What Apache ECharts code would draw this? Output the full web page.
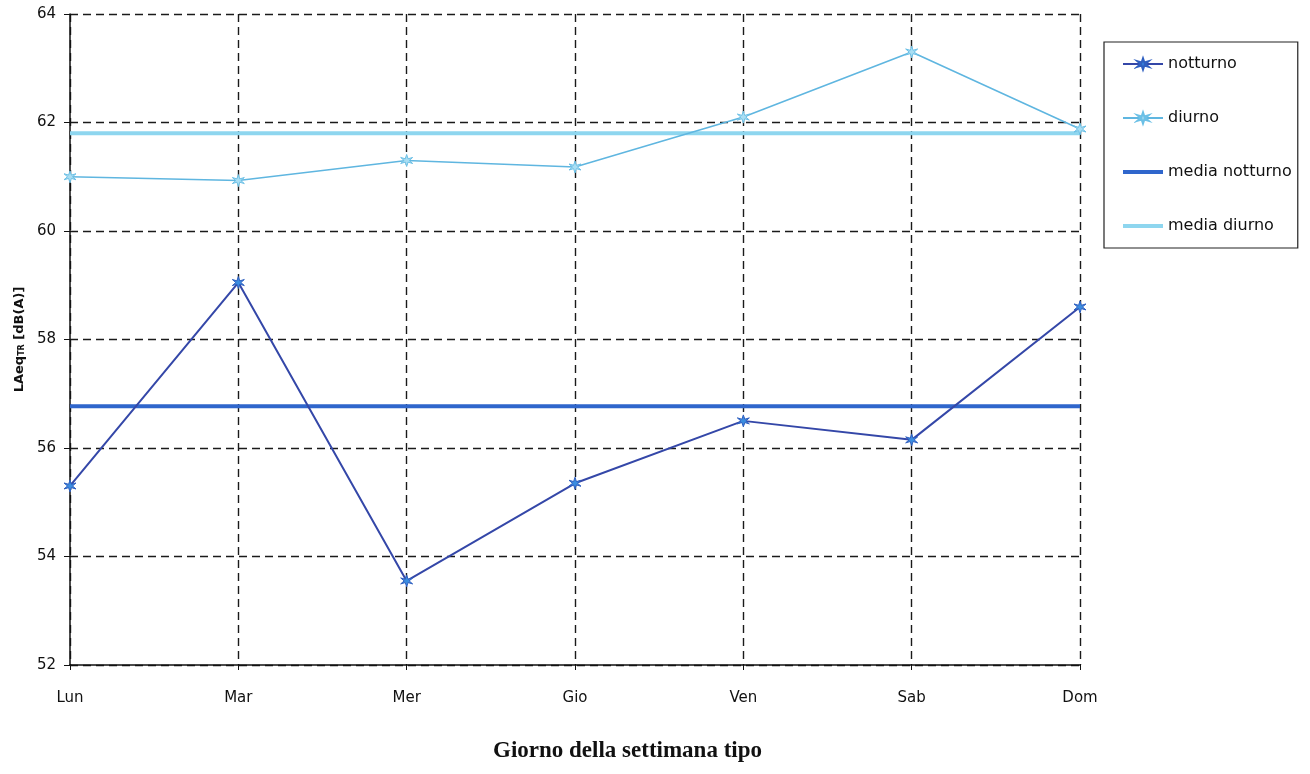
<!DOCTYPE html>
<html>
<head>
<meta charset="utf-8">
<script src="https://cdn.jsdelivr.net/npm/echarts@6/dist/echarts.min.js"></script>
<style>
  html, body { margin: 0; padding: 0; background: #ffffff; }
  #chart { width: 1310px; height: 774px; }
</style>
</head>
<body>
<div id="chart"></div>
<script>
// Days of the typical week
const days = ['Lun', 'Mar', 'Mer', 'Gio', 'Ven', 'Sab', 'Dom'];

// Measured LAeq,TR levels in dB(A)
const notturno = [55.3, 59.05, 53.55, 55.35, 56.5, 56.15, 58.6];
const diurno = [61.0, 60.93, 61.3, 61.18, 62.1, 63.3, 61.88];

// Weekly averages (energy means) drawn as flat reference lines
const mediaNotturno = [56.77, 56.77, 56.77, 56.77, 56.77, 56.77, 56.77];
const mediaDiurno = [61.8, 61.8, 61.8, 61.8, 61.8, 61.8, 61.8];

// Y axis range and step
const yMin = 52, yMax = 64, yStep = 2;

const asterisk = 'path://M5,0 L6,3.6 L9.3,2.5 L6.8,5 L9.3,7.5 L6,6.4 L5,10 L4,6.4 L0.7,7.5 L3.2,5 L0.7,2.5 L4,3.6 Z';
// Thick bar legend icon; the two tiny corner segments keep the full 40x14 box
const barIcon = 'path://M0,0 L0.01,0 L0,0.01 Z M40,14 L39.99,14 L40,13.99 Z M0,5 L40,5 L40,9 L0,9 Z';

const FONT = 'DejaVu Sans';
const gridDash = { color: '#1a1a1a', width: 1.4, type: [8, 5] };

const chart = echarts.init(document.getElementById('chart'), null, { renderer: 'canvas' });

chart.setOption({
  backgroundColor: '#ffffff',
  animation: false,
  title: {
    text: 'Giorno della settimana tipo',
    left: 488,
    top: 735,
    textStyle: {
      fontFamily: 'Liberation Serif',
      fontWeight: 'bold',
      fontSize: 23,
      color: '#111'
    }
  },
  grid: { left: 70, right: 230, top: 14, bottom: 109 },
  legend: {
    orient: 'vertical',
    left: 1104,
    top: 42,
    padding: [14, 6, 14, 18],
    itemGap: 38,
    itemWidth: 40,
    itemHeight: 14,
    borderColor: '#222',
    borderWidth: 1.2,
    backgroundColor: '#ffffff',
    textStyle: { fontFamily: FONT, fontSize: 16, color: '#111' },
    data: [
      { name: 'notturno' },
      { name: 'diurno' },
      { name: 'media notturno', icon: barIcon },
      { name: 'media diurno', icon: barIcon }
    ]
  },
  xAxis: {
    type: 'category',
    data: days,
    boundaryGap: false,
    axisLine: { lineStyle: { color: '#111', width: 1.5 } },
    axisTick: { show: true, alignWithLabel: true, inside: false, length: 5, lineStyle: { color: '#111' } },
    axisLabel: { fontFamily: FONT, fontSize: 15, color: '#111', margin: 26, interval: 0 },
    splitLine: { show: true, interval: 0, lineStyle: gridDash }
  },
  yAxis: {
    type: 'value',
    min: yMin,
    max: yMax,
    interval: yStep,
    name: '{a|LAeq}{b|TR}{a| [dB(A)]}',
    nameLocation: 'middle',
    nameGap: 44,
    nameRotate: 90,
    nameTextStyle: {
      rich: {
        a: { fontFamily: FONT, fontWeight: 'bold', fontSize: 13, color: '#111' },
        b: { fontFamily: FONT, fontWeight: 'bold', fontSize: 8, color: '#111', padding: [5, 0, 0, 0] }
      }
    },
    axisLine: { show: true, lineStyle: { color: '#111', width: 1.5 } },
    axisTick: { show: true, length: 6, lineStyle: { color: '#111' } },
    axisLabel: { fontFamily: FONT, fontSize: 15, color: '#111', margin: 14 },
    splitLine: { show: true, lineStyle: gridDash }
  },
  series: [
    {
      name: 'media diurno',
      type: 'line',
      data: mediaDiurno,
      symbol: 'none',
      z: 2,
      lineStyle: { color: '#8ed6ef', width: 4 },
      itemStyle: { color: '#8ed6ef' }
    },
    {
      name: 'media notturno',
      type: 'line',
      data: mediaNotturno,
      symbol: 'none',
      z: 2,
      lineStyle: { color: '#2f66cc', width: 4 },
      itemStyle: { color: '#2f66cc' }
    },
    {
      name: 'diurno',
      type: 'line',
      data: diurno,
      symbol: asterisk,
      symbolSize: 12,
      z: 3,
      lineStyle: { color: '#5fb6e0', width: 1.6 },
      itemStyle: { color: '#a9def3', borderColor: '#6cc0e6', borderWidth: 1 }
    },
    {
      name: 'notturno',
      type: 'line',
      data: notturno,
      symbol: asterisk,
      symbolSize: 12,
      z: 4,
      lineStyle: { color: '#3447a8', width: 2 },
      itemStyle: { color: '#3b8de0', borderColor: '#2f5fc0', borderWidth: 1 }
    }
  ]
});
</script>
</body>
</html>
